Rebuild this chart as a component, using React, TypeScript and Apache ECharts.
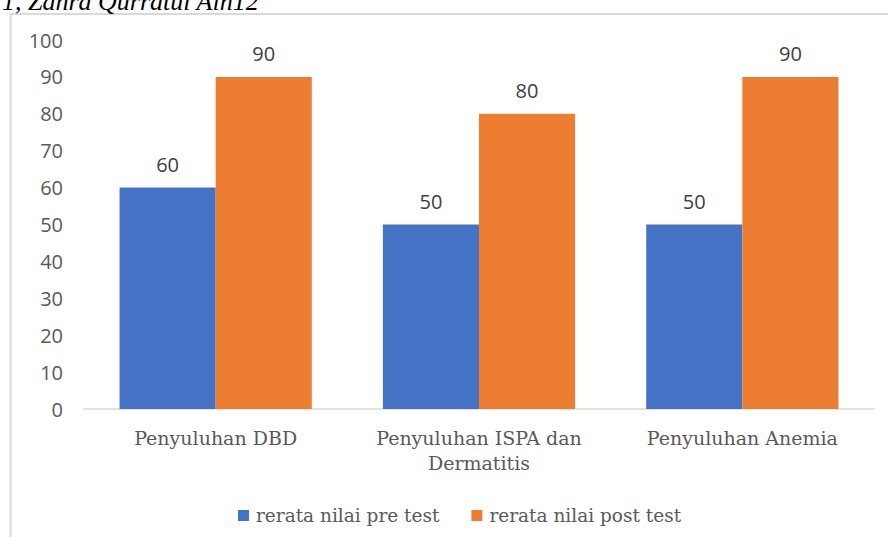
import React, { useEffect, useRef } from "react";
import * as echarts from "echarts";

const categories = ["Penyuluhan DBD", "Penyuluhan ISPA dan Dermatitis", "Penyuluhan Anemia"];
const preTest = [60, 50, 50];
const postTest = [90, 80, 90];
const seriesNames = ["rerata nilai pre test", "rerata nilai post test"];
const headerText = "1, Zahra Qurratul Ain12";

function wrapLabel(v: string): string {
  if (v.length <= 20) return v;
  const idx = v.lastIndexOf(" ", 20);
  return idx > 0 ? v.slice(0, idx) + "\n" + v.slice(idx + 1) : v;
}

export default function App() {
  const ref = useRef<HTMLDivElement>(null);
  useEffect(() => {
    document.body.style.margin = "0";
    if (!ref.current) return;
    const chart = echarts.init(ref.current, undefined, { renderer: "svg" });
    const sans = '"Open Sans", sans-serif';
    const serif = '"DejaVu Serif", serif';
    chart.setOption({
      animation: false,
      backgroundColor: "#ffffff",
      graphic: [
        {
          type: "rect",
          shape: { x: 10.5, y: 14, width: 1000, height: 700 },
          style: { fill: "none", stroke: "#d9d9d9", lineWidth: 2 },
          silent: true,
          z: -1,
        },
        {
          type: "text",
          x: 2,
          y: 1.5,
          style: {
            text: headerText,
            font: 'italic 26px "Liberation Serif", serif',
            fill: "#000000",
            verticalAlign: "middle",
            align: "left",
          },
          silent: true,
        },
      ],
      grid: { left: 84, right: 14, top: 40, bottom: 128, containLabel: false },
      legend: {
        data: seriesNames,
        left: 233,
        top: 501,
        itemWidth: 11,
        itemHeight: 11,
        itemGap: 32,
        icon: "rect",
        textStyle: {
          fontFamily: serif,
          fontSize: 18.5,
          color: "#595959",
          padding: [0, 0, 0, 2],
        },
      },
      xAxis: {
        type: "category",
        data: categories,
        axisTick: { show: false },
        axisLine: { lineStyle: { color: "#d9d9d9", width: 1.5 } },
        axisLabel: {
          interval: 0,
          margin: 16,
          fontFamily: serif,
          fontSize: 19,
          lineHeight: 25,
          color: "#595959",
          formatter: (v: string) => wrapLabel(v),
        },
      },
      yAxis: {
        type: "value",
        min: 0,
        max: 100,
        interval: 10,
        axisLine: { show: false },
        axisTick: { show: false },
        splitLine: { show: false },
        axisLabel: {
          margin: 21,
          fontFamily: sans,
          fontSize: 20,
          color: "#595959",
        },
      },
      series: [
        {
          name: seriesNames[0],
          type: "bar",
          data: preTest,
          barGap: "0%",
          barCategoryGap: "27%",
          itemStyle: { color: "#4472C4" },
          label: {
            show: true,
            position: "top",
            distance: 13,
            fontFamily: sans,
            fontSize: 20,
            color: "#404040",
          },
        },
        {
          name: seriesNames[1],
          type: "bar",
          data: postTest,
          barGap: "0%",
          barCategoryGap: "27%",
          itemStyle: { color: "#ED7D31" },
          label: {
            show: true,
            position: "top",
            distance: 13,
            fontFamily: sans,
            fontSize: 20,
            color: "#404040",
          },
        },
      ],
    });
    return () => chart.dispose();
  }, []);
  return <div ref={ref} style={{ width: 888, height: 537 }} />;
}
